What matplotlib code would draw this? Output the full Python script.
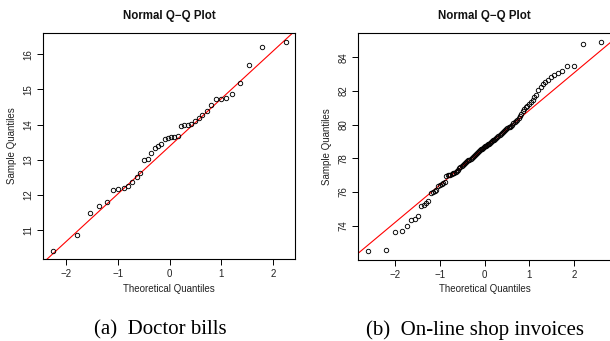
import numpy as np
import matplotlib
matplotlib.use("Agg")
import matplotlib.pyplot as plt
from statistics import NormalDist

plt.rcParams['font.family'] = ['Liberation Sans', 'DejaVu Sans']
plt.rcParams['axes.unicode_minus'] = True

# ---- data (sample values, sorted) ----
doctor_bills = [10.40, 10.85, 11.47, 11.67, 11.78, 12.13, 12.16, 12.20, 12.24, 12.35,
                12.50, 12.63, 12.99, 13.01, 13.19, 13.34, 13.39, 13.44, 13.60, 13.63,
                13.64, 13.65, 13.67, 13.97, 13.99, 13.99, 14.02, 14.11, 14.18, 14.27,
                14.38, 14.56, 14.73, 14.74, 14.77, 14.88, 15.18, 15.70, 16.22, 16.35]

shop_invoices = [72.52, 72.55, 73.64, 73.66, 73.95, 74.36, 74.40, 74.58, 75.17, 75.21,
                 75.33, 75.47, 75.92, 75.98, 76.04, 76.10, 76.35, 76.40, 76.45, 76.52,
                 76.62, 76.96, 76.98, 77.00, 77.03, 77.07, 77.10, 77.12, 77.17, 77.26,
                 77.33, 77.40, 77.46, 77.52, 77.58, 77.64, 77.70, 77.76, 77.82, 77.87,
                 77.92, 77.98, 78.04, 78.10, 78.15, 78.21, 78.27, 78.33, 78.40, 78.46,
                 78.50, 78.54, 78.58, 78.62, 78.66, 78.70, 78.74, 78.78, 78.82, 78.86,
                 78.90, 78.95, 79.00, 79.06, 79.11, 79.16, 79.20, 79.25, 79.30, 79.36,
                 79.42, 79.48, 79.54, 79.60, 79.66, 79.71, 79.77, 79.83, 79.88, 79.94,
                 80.00, 80.08, 80.14, 80.22, 80.30, 80.40, 80.52, 80.65, 80.78, 80.90,
                 81.02, 81.12, 81.22, 81.36, 81.48, 81.62, 81.78, 82.04, 82.26, 82.42,
                 82.53, 82.67, 82.80, 82.92, 83.05, 83.20, 83.47, 83.49, 84.78, 84.91]

title = "Normal Q\u2212Q Plot"
xlabel = "Theoretical Quantiles"
ylabel = "Sample Quantiles"
captions = ["(a)  Doctor bills", "(b)  On-line shop invoices"]
xticks_left = [-2, -1, 0, 1, 2]
yticks_left = [11, 12, 13, 14, 15, 16]
xticks_right = [-2, -1, 0, 1, 2]
yticks_right = [74, 76, 78, 80, 82, 84]

W, H = 610, 341
fig = plt.figure(figsize=(W / 100, H / 100), dpi=100)


def theor(n):
    nd = NormalDist()
    a = 3 / 8 if n <= 10 else 0.5
    return np.array([nd.inv_cdf((i - a) / (n + 1 - 2 * a)) for i in range(1, n + 1)])


def panel(rect_px, data, xlim, ylim, xt, yt):
    l, t, r, b = rect_px
    ax = fig.add_axes([l / W, 1 - b / H, (r - l) / W, (b - t) / H])
    y = np.sort(np.asarray(data))
    x = theor(len(y))
    ax.plot(x, y, linestyle='none', marker='o', markersize=3.2,
            markerfacecolor='none', markeredgecolor='black', markeredgewidth=0.65,
            zorder=3, clip_on=False)
    # qqline through quartiles
    q1, q3 = np.quantile(y, [0.25, 0.75])
    z1, z3 = NormalDist().inv_cdf(0.25), NormalDist().inv_cdf(0.75)
    slope = (q3 - q1) / (z3 - z1)
    inter = q1 - slope * z1
    xs = np.array(xlim)
    ax.plot(xs, inter + slope * xs, color='#ff0000', lw=0.8, zorder=2)
    ax.set_xlim(xlim)
    ax.set_ylim(ylim)
    ax.set_xticks(xt)
    ax.set_yticks(yt)
    ax.set_xticklabels([str(v).replace('-', '\u2212') for v in xt])
    ax.set_yticklabels([str(v) for v in yt], rotation=90, va='center')
    ax.tick_params(direction='out', length=4, width=0.7, labelsize=7,
                   colors='black', labelcolor='#222222')
    ax.tick_params(axis='x', pad=3)
    ax.tick_params(axis='y', pad=3)
    for s in ax.spines.values():
        s.set_linewidth(0.8)
    cx = (l + r) / 2
    fig.text(cx / W, 1 - 16 / H, title, ha='center', va='center',
             fontsize=8.3, fontweight='bold', color='#111111')
    fig.text(cx / W, 1 - 289.5 / H, xlabel, ha='center', va='center',
             fontsize=7, color='#222222')
    fig.text((l - 30.5) / W, 1 - ((t + b) / 2) / H, ylabel, ha='center', va='center',
             rotation=90, fontsize=7, color='#222222')
    return ax


panel((43, 33, 295, 259), doctor_bills, (-2.44, 2.42), (10.17, 16.61),
      xticks_left, yticks_left)
panel((358, 33, 611, 260), shop_invoices, (-2.83, 2.83), (71.96, 85.44),
      xticks_right, yticks_right)

for cx, cap in zip([160, 474.5], captions):
    fig.text(cx / W, 1 - 330 / H, cap, ha='center', va='center',
             fontsize=15, family=['Liberation Serif', 'DejaVu Serif'], color='black')

fig.savefig("out.png", dpi=100)
